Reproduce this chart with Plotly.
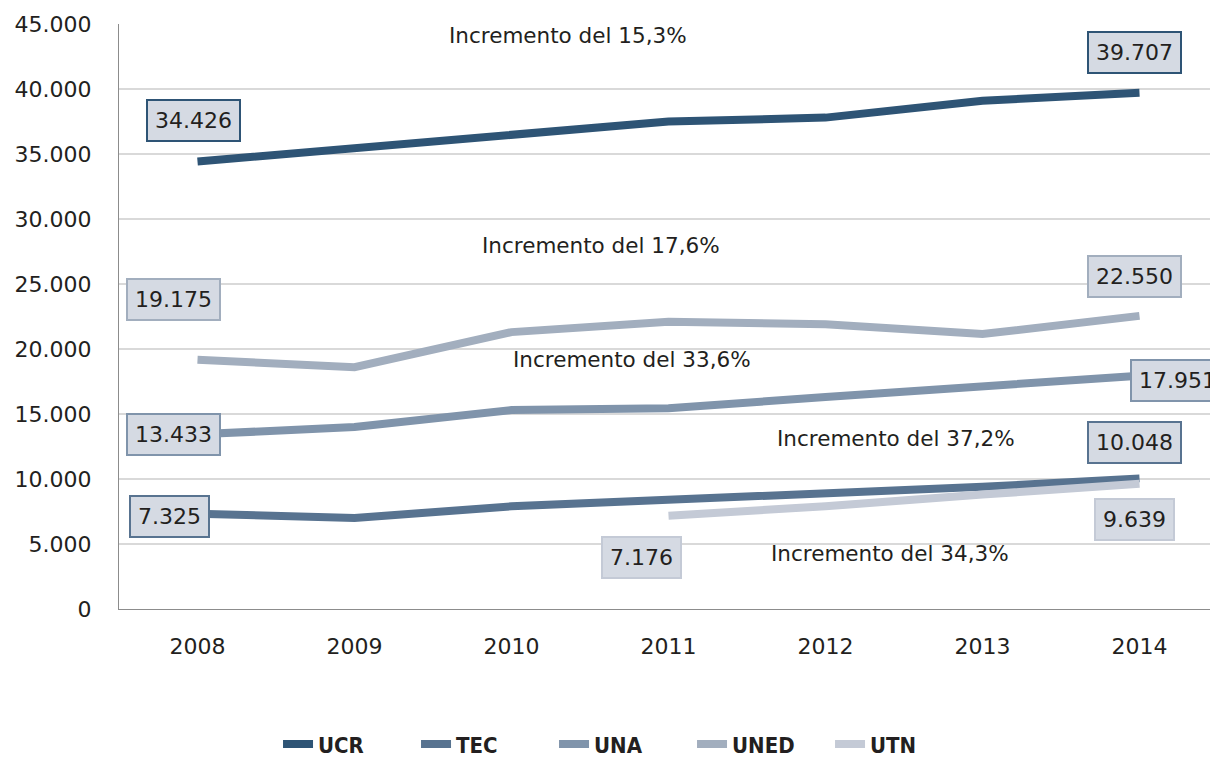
import plotly.graph_objects as go

years = [2008, 2009, 2010, 2011, 2012, 2013, 2014]
ucr = [34426, 35400, 36500, 37500, 37800, 39100, 39707]
tec = [7325, 7000, 7900, 8400, 8850, 9400, 10048]
una = [13433, 14000, 15300, 15450, 16300, 17100, 17951]
uned = [19175, 18600, 21300, 22100, 21900, 21150, 22550]
utn = [None, None, None, 7176, 7900, 8800, 9639]

names = ["UCR", "TEC", "UNA", "UNED", "UTN"]
colors = ["#2E5475", "#587390", "#8094AB", "#A2AEBE", "#C4CAD6"]
series = [ucr, tec, una, uned, utn]

# value labels: (text, year, y, xshift, border color)
labels = [
    ("34.426", 2008, 37600, -4, colors[0]),
    ("39.707", 2014, 42800, -5, colors[0]),
    ("19.175", 2008, 23800, -24, colors[3]),
    ("22.550", 2014, 25600, -5, colors[3]),
    ("13.433", 2008, 13450, -24, colors[2]),
    ("17.951", 2014, 17600, 38, colors[2]),
    ("7.325", 2008, 7100, -28, colors[1]),
    ("10.048", 2014, 12800, -5, colors[1]),
    ("7.176", 2011, 4000, -27, colors[4]),
    ("9.639", 2014, 6900, -5, colors[4]),
]

notes = [
    ("Incremento del 15,3%", 2010.36, 44100),
    ("Incremento del 17,6%", 2010.57, 28000),
    ("Incremento del 33,6%", 2010.77, 19200),
    ("Incremento del 37,2%", 2012.45, 13150),
    ("Incremento del 34,3%", 2012.41, 4300),
]

fig = go.Figure()
for name, col, vals in zip(names, colors, series):
    fig.add_trace(go.Scatter(x=years, y=vals, name="<b>" + name + "</b>", mode="lines",
                             line=dict(color=col, width=8)))

for txt, xv, yv, xs, bc in labels:
    fig.add_annotation(x=xv, y=yv, text=txt, xshift=xs, showarrow=False,
                       font=dict(size=22, color="#231F20"),
                       bgcolor="#D5DAE3", bordercolor=bc, borderwidth=2,
                       borderpad=7)

for txt, xv, yv in notes:
    fig.add_annotation(x=xv, y=yv, text=txt, showarrow=False,
                       font=dict(size=21.5, color="#231F20"))

# the page adds an 8px body margin, so the figure is drawn 8px smaller
fig.update_layout(
    width=1210, height=749,
    margin=dict(l=111, r=0, t=16, b=148, autoexpand=False),
    paper_bgcolor="white", plot_bgcolor="white",
    separators=",.",
    font=dict(family="DejaVu Sans, sans-serif", color="#231F20"),
    showlegend=True,
    legend=dict(orientation="h", x=0.1447, xanchor="left", y=-0.231,
                yanchor="middle",
                font=dict(size=22, family="DejaVu Sans Condensed", color="#231F20"),
                entrywidth=93, entrywidthmode="pixels", traceorder="normal"),
)
fig.update_xaxes(range=[2007.5, 2014.5], tickvals=years, ticktext=[str(y) for y in years],
                 showgrid=False, showline=True, linecolor="#8C8C8C", linewidth=1,
                 tickfont=dict(size=22), ticks="", ticklabelstandoff=18, automargin=False)
fig.update_yaxes(range=[0, 45000.5], tickvals=list(range(0, 45001, 5000)), tickformat=",d",
                 showgrid=True, gridcolor="#D9D9D9", gridwidth=2,
                 showline=True, linecolor="#8C8C8C", linewidth=1,
                 tickfont=dict(size=22), ticks="", ticklabelstandoff=22,
                 zeroline=False, automargin=False)

fig.write_html("out.html")
